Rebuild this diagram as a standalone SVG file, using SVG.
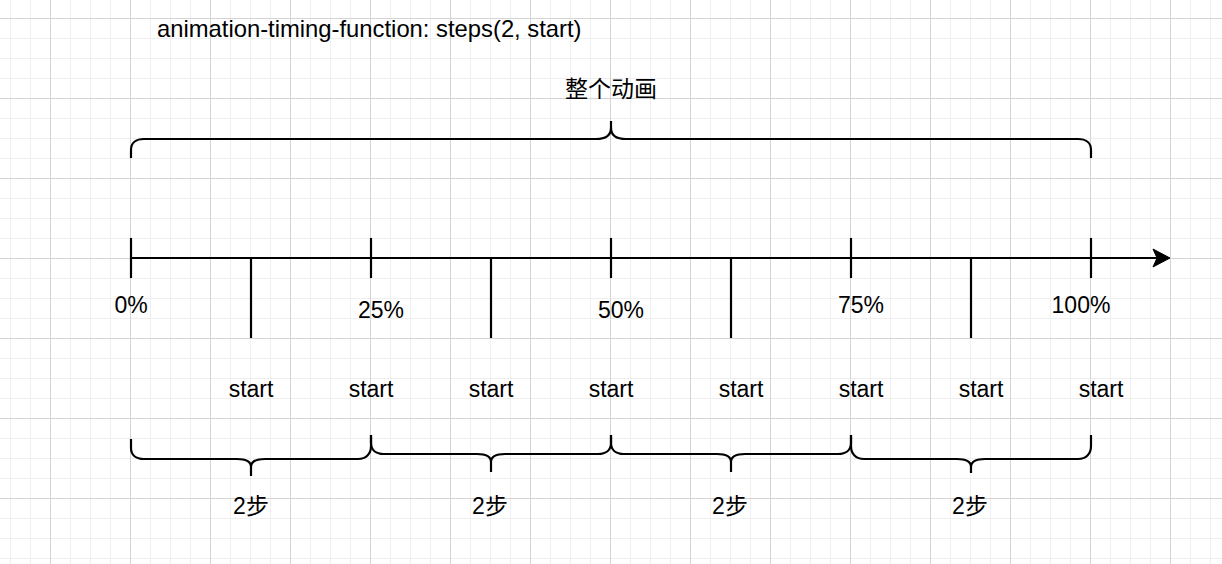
<svg xmlns="http://www.w3.org/2000/svg" width="1222" height="564" viewBox="0 0 1222 564">
<style>
.ln{fill:none;stroke:#000;stroke-width:2.2;stroke-linejoin:round}
.t{font-family:"Liberation Sans",Arial,"Noto Sans CJK SC",sans-serif;font-size:23px;fill:#000;text-anchor:middle}
.ti{font-family:"Liberation Sans",Arial,sans-serif;font-size:23.8px;fill:#000}
.cjk{font-family:"Liberation Sans",Arial,"Noto Sans CJK SC",sans-serif;font-size:23px;fill:#000;text-anchor:middle}
</style>
<defs>
<pattern id="grid" x="50" y="18" width="80" height="80" patternUnits="userSpaceOnUse">
<rect x="0" y="0" width="80" height="80" fill="#fff"/>
<rect x="20" y="0" width="1" height="80" fill="#efefef"/>
<rect x="40" y="0" width="1" height="80" fill="#efefef"/>
<rect x="60" y="0" width="1" height="80" fill="#efefef"/>
<rect x="0" y="20" width="80" height="1" fill="#efefef"/>
<rect x="0" y="40" width="80" height="1" fill="#efefef"/>
<rect x="0" y="60" width="80" height="1" fill="#efefef"/>
<rect x="0" y="0" width="1" height="80" fill="#d4d4d4"/>
<rect x="0" y="0" width="80" height="1" fill="#d4d4d4"/>
</pattern>
</defs>
<rect id="background" x="0" y="0" width="1222" height="564" fill="url(#grid)"/>

<g id="connectors">
<path id="axis" class="ln" d="M131,258 L1158,258"/>
<polygon id="axis-arrowhead" points="1170,258 1153,249 1157,258 1153,267" fill="#000" stroke="#000" stroke-width="1" stroke-linejoin="miter"/>
<g id="major-ticks">
<path class="ln" d="M131,238 L131,278"/>
<path class="ln" d="M371,238 L371,278"/>
<path class="ln" d="M611,238 L611,278"/>
<path class="ln" d="M851,238 L851,278"/>
<path class="ln" d="M1091,238 L1091,278"/>
</g>
<g id="step-ticks">
<path class="ln" d="M251,258 L251,338"/>
<path class="ln" d="M491,258 L491,338"/>
<path class="ln" d="M731,258 L731,338"/>
<path class="ln" d="M971,258 L971,338"/>
</g>
<g id="top-brace">
<path class="ln" d="M131,158 L131,150 C131,143 136,139 144,139 L596,139 C606,139 611,135 611,128 L611,121"/>
<path class="ln" d="M1091,158 L1091,150 C1091,143 1086,139 1078,139 L626,139 C616,139 611,135 611,128"/>
</g>
<g id="bottom-braces">
<path class="ln" d="M131,439 L131,448 C131,455 136,459 144,459 L237,459 C246,459 251,462 251,467 L251,476"/>
<path class="ln" d="M371,435 L371,446 C371,454 366,459 358,459 L265,459 C256,459 251,462 251,467"/>
<path class="ln" d="M371,435 L371,443 C371,450 376,454 384,454 L477,454 C486,454 491,457 491,462 L491,472"/>
<path class="ln" d="M611,435 L611,443 C611,450 606,454 598,454 L505,454 C496,454 491,457 491,462"/>
<path class="ln" d="M611,435 L611,443 C611,450 616,454 624,454 L717,454 C726,454 731,457 731,462 L731,472"/>
<path class="ln" d="M851,435 L851,443 C851,450 846,454 838,454 L745,454 C736,454 731,457 731,462"/>
<path class="ln" d="M851,435 L851,446 C851,454 856,459 864,459 L957,459 C966,459 971,462 971,467 L971,473"/>
<path class="ln" d="M1091,435 L1091,446 C1091,454 1086,459 1078,459 L985,459 C976,459 971,462 971,467"/>
</g>
</g>

<g id="title"><text class="ti" x="157" y="37">animation-timing-function: steps(2, start)</text></g>
<g id="label-whole"><text class="cjk" x="611" y="97">整个动画</text></g>

<g id="pct-0"><text class="t" x="131" y="313">0%</text></g>
<g id="pct-25"><text class="t" x="381" y="318">25%</text></g>
<g id="pct-50"><text class="t" x="621" y="318">50%</text></g>
<g id="pct-75"><text class="t" x="861" y="313">75%</text></g>
<g id="pct-100"><text class="t" x="1081" y="313">100%</text></g>

<g id="start-1"><text class="t" x="251" y="397">start</text></g>
<g id="start-2"><text class="t" x="371" y="397">start</text></g>
<g id="start-3"><text class="t" x="491" y="397">start</text></g>
<g id="start-4"><text class="t" x="611" y="397">start</text></g>
<g id="start-5"><text class="t" x="741" y="397">start</text></g>
<g id="start-6"><text class="t" x="861" y="397">start</text></g>
<g id="start-7"><text class="t" x="981" y="397">start</text></g>
<g id="start-8"><text class="t" x="1101" y="397">start</text></g>

<g id="step-1"><text class="cjk" x="251" y="514">2步</text></g>
<g id="step-2"><text class="cjk" x="490" y="514">2步</text></g>
<g id="step-3"><text class="cjk" x="730" y="514">2步</text></g>
<g id="step-4"><text class="cjk" x="970" y="514">2步</text></g>
</svg>
